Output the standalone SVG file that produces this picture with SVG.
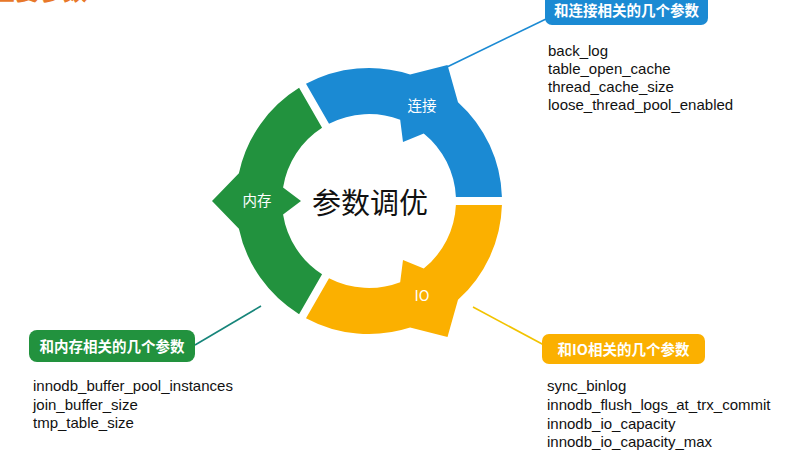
<svg xmlns="http://www.w3.org/2000/svg" width="786" height="456" viewBox="0 0 786 456">
<style>
.cjk{font-family:"Noto Sans CJK SC","Liberation Sans",sans-serif}
.lbl{font-family:"Noto Sans CJK SC","Liberation Sans",sans-serif;font-size:14.5px;font-weight:bold;fill:#fff;text-anchor:middle}
.seg{font-family:"Noto Sans CJK SC","Liberation Sans",sans-serif;font-size:14.5px;fill:#fff;text-anchor:middle}
.list{font-family:"Liberation Sans",Arial,sans-serif;font-size:15px;fill:#111}
.conn{fill:none;stroke-width:1.6}
</style>
<rect width="786" height="456" fill="#fff"/>
<text x="-9" y="0" class="cjk" font-size="24" font-weight="bold" fill="#e8782a">主要参数</text>

<g id="connectors">
<line class="conn" x1="447" y1="67" x2="546" y2="19" stroke="#1b8ad3"/>
<line class="conn" x1="261" y1="306" x2="195" y2="345" stroke="#17857a"/>
<line class="conn" x1="473" y1="307" x2="544" y2="345" stroke="#f2c300"/>
</g>

<g id="ring-io">
<path fill="#fbb000" d="M501.94,204.99 A133,133 0 0 1 458.0,299.84 L447.5,336.97 L410.1,327.49 A133,133 0 0 1 305.99,318.13 L329.02,278.27 A87,87 0 0 0 400.18,282.22 L403,259.89 L423.75,268.61 A87,87 0 0 0 455.91,205.01 Z"/>
<text x="422" y="301" class="seg">IO</text>
</g>
<g id="ring-conn">
<path fill="#1b8ad3" d="M305.99,83.87 A133,133 0 0 1 410.1,74.51 L447.5,65.03 L458.0,102.16 A133,133 0 0 1 501.94,197.01 L455.91,196.99 A87,87 0 0 0 423.75,133.39 L403,142.11 L400.18,119.78 A87,87 0 0 0 329.02,123.73 Z"/>
<text x="422" y="111" class="seg">连接</text>
</g>
<g id="ring-mem">
<path fill="#22923e" d="M299.08,314.14 A133,133 0 0 1 238.91,228.65 L212,201 L238.91,173.35 A133,133 0 0 1 299.08,87.86 L322.07,127.74 A87,87 0 0 0 283.07,187.39 L301,201 L283.07,214.61 A87,87 0 0 0 322.07,274.26 Z"/>
<text x="257" y="206" class="seg">内存</text>
</g>

<g id="center">
<text x="370" y="214" class="cjk" font-size="29" fill="#111" text-anchor="middle">参数调优</text>
</g>

<g id="box-conn">
<rect x="545" y="-6" width="163" height="31" rx="7" fill="#1b8ad3"/>
<text x="626.5" y="15.5" class="lbl">和连接相关的几个参数</text>
</g>
<g id="list-conn">
<text class="list" x="548" y="56">back_log</text>
<text class="list" x="548" y="74">table_open_cache</text>
<text class="list" x="548" y="92">thread_cache_size</text>
<text class="list" x="548" y="110">loose_thread_pool_enabled</text>
</g>

<g id="box-mem">
<rect x="29" y="330" width="166" height="32" rx="8" fill="#22923e"/>
<text x="112" y="351.5" class="lbl">和内存相关的几个参数</text>
</g>
<g id="list-mem">
<text class="list" x="33" y="391">innodb_buffer_pool_instances</text>
<text class="list" x="33" y="410">join_buffer_size</text>
<text class="list" x="33" y="428">tmp_table_size</text>
</g>

<g id="box-io">
<rect x="542" y="334" width="163" height="30" rx="7" fill="#fbb000"/>
<text x="623.5" y="355" class="lbl">和IO相关的几个参数</text>
</g>
<g id="list-io">
<text class="list" x="547" y="391">sync_binlog</text>
<text class="list" x="547" y="410">innodb_flush_logs_at_trx_commit</text>
<text class="list" x="547" y="429">innodb_io_capacity</text>
<text class="list" x="547" y="447">innodb_io_capacity_max</text>
</g>
</svg>
